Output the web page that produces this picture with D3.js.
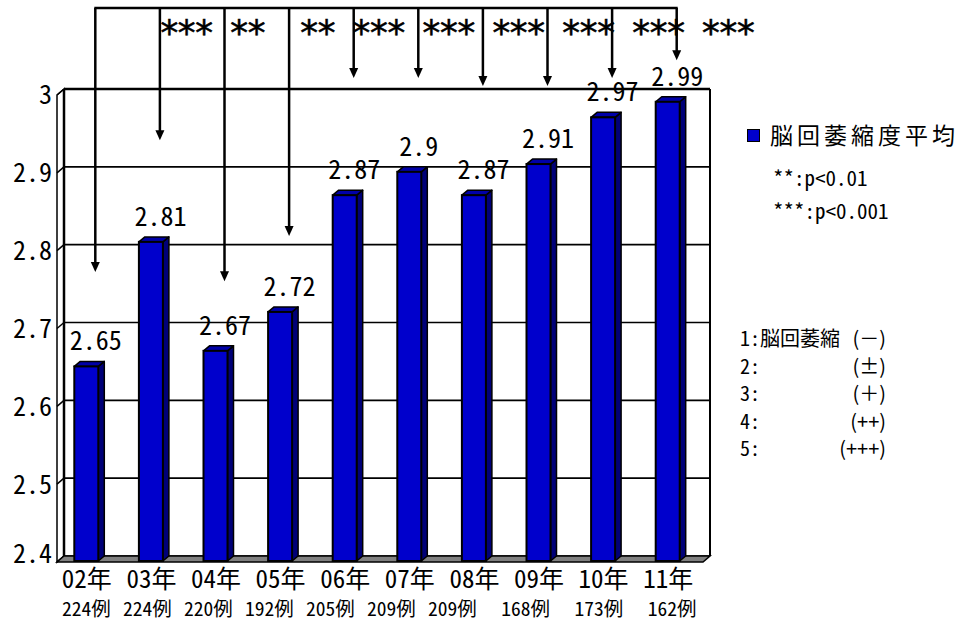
<!DOCTYPE html>
<html>
<head>
<meta charset="utf-8">
<script src="https://cdn.jsdelivr.net/npm/d3@7"></script>
<style>
  html, body { margin: 0; padding: 0; background: #fff; }
  svg { display: block; }
  text { font-family: "Noto Sans CJK JP", sans-serif; fill: #000; }
  .hw { font-feature-settings: "hwid" 1; }
  .pre { white-space: pre; }
  text.stars { font-family: "DejaVu Sans Mono", monospace; }
</style>
</head>
<body>
<svg id="chart" width="961" height="622"></svg>
<script>
// Yearly mean cortical atrophy grade, 2002-2011
const years = ["02年", "03年", "04年", "05年", "06年", "07年", "08年", "09年", "10年", "11年"];
const counts = [224, 224, 220, 192, 205, 209, 209, 168, 173, 162];
const meanScores = [2.65, 2.81, 2.67, 2.72, 2.87, 2.9, 2.87, 2.91, 2.97, 2.99];
const yTicks = [2.4, 2.5, 2.6, 2.7, 2.8, 2.9, 3];
// significance of each year against 02年
const sigMarks = ["***", "**", "**", "***", "***", "***", "***", "***", "***"];
// where each comparison arrow ends, in grade units
const arrowEnds = [2.765, 2.934, 2.753, 2.811, 3.014, 3.014, 3.004, 3.004, 3.014, 3.037];
const seriesName = "脳回萎縮度平均";
const sigNotes = ["**:p<0.01", "***:p<0.001"];
const gradeNums = [1, 2, 3, 4, 5];
const gradeNames = ["脳回萎縮", "", "", "", ""];
const gradeMarks = ["(－)", "(±)", "(＋)", "(++)", "(+++)"];

const svg = d3.select("#chart");

// back wall and 3-D offsets
const wall = { left: 64, right: 710, top: 89, bottom: 556 };
const floorDepth = { dx: 7, dy: 6 };      // back wall -> front edge
const barDepth = { dx: 6, dy: 5 };        // bar front -> bar back
const barFront = { dx: -6, dy: 5 };       // bar front plane vs back wall

const y = d3.scaleLinear().domain([2.4, 3]).range([wall.bottom, wall.top]);
const x = d3.scaleBand().domain(years)
  .range([wall.left - floorDepth.dx, wall.right - floorDepth.dx]).padding(0);
const bw = x.bandwidth();
const barW = 24;
const barCenter = d => x(d) + bw / 2 - 1.5;

const ink = "#000";
const blueFront = "#0000cc", blueTop = "#0000a8", blueSide = "#000078";

// ---- walls ----
svg.append("rect")
  .attr("x", wall.left).attr("y", wall.top)
  .attr("width", wall.right - wall.left).attr("height", wall.bottom - wall.top)
  .attr("fill", "#fff");

// left side wall
svg.append("polygon")
  .attr("points", [
    [wall.left, wall.top], [wall.left - floorDepth.dx, wall.top + floorDepth.dy],
    [wall.left - floorDepth.dx, wall.bottom + floorDepth.dy], [wall.left, wall.bottom]
  ].join(" "))
  .attr("fill", "#fff").attr("stroke", ink).attr("stroke-width", 1.5);

// gridlines across the back wall and the side wall
const grid = svg.append("g");
grid.selectAll("line.back").data(yTicks).join("line").attr("class", "back")
  .attr("x1", wall.left).attr("x2", wall.right)
  .attr("y1", d => y(d)).attr("y2", d => y(d))
  .attr("stroke", ink).attr("stroke-width", d => d === 3 ? 2.5 : 1.6);
grid.selectAll("line.side").data(yTicks).join("line").attr("class", "side")
  .attr("x1", wall.left).attr("x2", wall.left - floorDepth.dx)
  .attr("y1", d => y(d)).attr("y2", d => y(d) + floorDepth.dy)
  .attr("stroke", ink).attr("stroke-width", 1.5);

// wall edges
svg.append("line").attr("x1", wall.left).attr("x2", wall.left)
  .attr("y1", wall.top).attr("y2", wall.bottom)
  .attr("stroke", ink).attr("stroke-width", 2.5);
svg.append("line").attr("x1", wall.right).attr("x2", wall.right)
  .attr("y1", wall.top).attr("y2", wall.bottom)
  .attr("stroke", ink).attr("stroke-width", 2);

// floor
svg.append("polygon")
  .attr("points", [
    [wall.left, wall.bottom], [wall.right, wall.bottom],
    [wall.right - floorDepth.dx, wall.bottom + floorDepth.dy],
    [wall.left - floorDepth.dx, wall.bottom + floorDepth.dy]
  ].join(" "))
  .attr("fill", "#808080").attr("stroke", ink).attr("stroke-width", 1.5);

// ---- y axis labels ----
svg.append("g").selectAll("text").data(yTicks).join("text")
  .attr("class", "hw")
  .attr("x", 52)
  .attr("y", d => Math.min(Math.max(y(d) + floorDepth.dy, wall.top + 1), wall.bottom - 2))
  .attr("dy", "0.36em")
  .attr("text-anchor", "end")
  .attr("font-size", 26)
  .text(d => String(+d.toFixed(1)));

// ---- bars ----
const bars = svg.append("g").selectAll("g").data(years.map((yr, i) => ({ yr, v: meanScores[i] })))
  .join("g");
bars.each(function (d) {
  const g = d3.select(this);
  const x0 = barCenter(d.yr) - barW / 2 - 1.5, x1 = x0 + barW;
  const yb = y(2.4) + barFront.dy, yt = y(d.v) + barFront.dy;
  const { dx, dy } = barDepth;
  g.append("polygon")
    .attr("points", [[x1, yt], [x1 + dx, yt - dy], [x1 + dx, yb - dy], [x1, yb]].join(" "))
    .attr("fill", blueSide).attr("stroke", ink).attr("stroke-width", 1.5).attr("stroke-linejoin", "round");
  g.append("polygon")
    .attr("points", [[x0, yt], [x0 + dx, yt - dy], [x1 + dx, yt - dy], [x1, yt]].join(" "))
    .attr("fill", blueTop).attr("stroke", ink).attr("stroke-width", 1.5).attr("stroke-linejoin", "round");
  g.append("rect")
    .attr("x", x0).attr("y", yt).attr("width", barW).attr("height", yb - yt)
    .attr("fill", blueFront).attr("stroke", ink).attr("stroke-width", 2);
});

// value labels
svg.append("g").selectAll("text").data(years.map((yr, i) => ({ yr, v: meanScores[i] })))
  .join("text")
  .attr("class", "hw")
  .attr("x", d => barCenter(d.yr) + 8)
  .attr("y", d => y(d.v) + barFront.dy - 16)
  .attr("text-anchor", "middle")
  .attr("font-size", 26)
  .text(d => String(d.v));

// ---- category labels ----
svg.append("g").selectAll("text").data(years).join("text")
  .attr("class", "hw")
  .attr("x", d => barCenter(d) - 1)
  .attr("y", 588)
  .attr("text-anchor", "middle")
  .attr("font-size", 25)
  .text(d => d);

// case counts typed as one line under the years
svg.append("text")
  .attr("class", "hw pre")
  .attr("x", 62).attr("y", 616)
  .attr("font-size", 19.5)
  .attr("word-spacing", 2.5)
  .text(counts.map((n, i) => (i >= 7 ? "  " : i ? " " : "") + n + "例").join(""));

// ---- comparison arrows ----
const arrowX = i => barCenter(years[i]) + 7.5;
const bracketY = 8;
const arrows = svg.append("g");
arrows.append("line")
  .attr("x1", arrowX(0) - 1).attr("x2", arrowX(years.length - 1) + 1)
  .attr("y1", bracketY).attr("y2", bracketY)
  .attr("stroke", ink).attr("stroke-width", 2.5);
arrows.selectAll("line.shaft").data(arrowEnds).join("line").attr("class", "shaft")
  .attr("x1", (d, i) => arrowX(i)).attr("x2", (d, i) => arrowX(i))
  .attr("y1", bracketY).attr("y2", d => y(d) - 8)
  .attr("stroke", ink).attr("stroke-width", 2.5);
arrows.selectAll("path").data(arrowEnds).join("path")
  .attr("d", (d, i) => {
    const ax = arrowX(i), ay = y(d);
    return `M${ax - 4.5},${ay - 10}L${ax + 4.5},${ay - 10}L${ax},${ay}Z`;
  })
  .attr("fill", ink);

// significance marks
svg.append("text")
  .attr("class", "pre stars")
  .attr("x", arrowX(1) - 1.5).attr("y", 45)
  .attr("font-size", 36)
  .attr("letter-spacing", -4.2)
  .attr("stroke", ink).attr("stroke-width", 0.5)
  .text(sigMarks.slice(0, 2).join(" ") + "  " + sigMarks.slice(2).join(" "));

// ---- legend ----
const legend = svg.append("g");
legend.append("rect")
  .attr("x", 747.5).attr("y", 129.5).attr("width", 12).attr("height", 12)
  .attr("fill", blueFront).attr("stroke", ink).attr("stroke-width", 1);
legend.append("text")
  .attr("x", 770).attr("y", 144)
  .attr("font-size", 23)
  .attr("letter-spacing", 4)
  .text(seriesName);
legend.selectAll("text.sig").data(sigNotes).join("text").attr("class", "sig hw")
  .attr("x", 773).attr("y", (d, i) => 186 + i * 33)
  .attr("font-size", 21)
  .text(d => d);

const grades = svg.append("g").selectAll("g").data(gradeNums).join("g");
grades.append("text").attr("class", "hw")
  .attr("x", 740).attr("y", (d, i) => 346 + i * 27.5)
  .attr("font-size", 20)
  .text((d, i) => `${d}:${gradeNames[i]}`);
grades.append("text")
  .attr("x", 886).attr("y", (d, i) => 346 + i * 27.5)
  .attr("text-anchor", "end")
  .attr("font-size", 20)
  .text((d, i) => gradeMarks[i]);
</script>
</body>
</html>
